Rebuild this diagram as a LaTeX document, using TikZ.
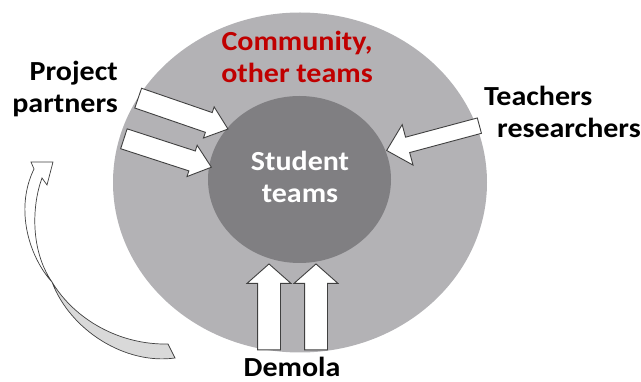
\documentclass[tikz,border=0pt]{standalone}
\usepackage{fontspec}
\setmainfont{Carlito}
\definecolor{colouter}{RGB}{179,178,181}
\definecolor{colinner}{RGB}{128,127,130}
\definecolor{colred}{RGB}{192,0,0}
\definecolor{coledge}{RGB}{64,64,64}
\usetikzlibrary{
	shapes.arrows,
	positioning
}
\tikzset{
	labeltext/.style={font=\fontsize{30}{35}\selectfont\bfseries, inner sep=0pt, yscale=0.92},
	blockarrow/.style={single arrow, draw=coledge, fill=white, line width=0.9pt, inner xsep=0pt},
	pparrow/.style={blockarrow, inner ysep=10pt, single arrow head extend=6pt, single arrow tip angle=78},
	tcharrow/.style={blockarrow, inner ysep=7.5pt, single arrow head extend=13pt, single arrow tip angle=88},
	demarrow/.style={blockarrow, inner ysep=11pt, single arrow head extend=10.5pt, single arrow tip angle=97},
	ribbon/.style={draw=coledge, line width=0.7pt}
}
\begin{document}
\begin{tikzpicture}[x=1pt, y=-1pt]
	\useasboundingbox (0,0) rectangle (641,382);

	% circles
	\fill[colouter] (300,182.5) ellipse [x radius=187, y radius=170];
	\fill[colinner] (299.5,179.5) ellipse [x radius=91.5, y radius=83.5];

	% labels
	\node[labeltext, text=colred, align=center, anchor=base] (community) at (297,83) {Community,\\other teams};
	\node[labeltext, align=right, anchor=base east] (partners) at (118,113) {Project\\partners};
	\node[labeltext, align=left, anchor=base west] (teachers) at (484,138) {Teachers\\\hspace{13pt}researchers};
	\node[labeltext, text=white, align=center, anchor=base] (students) at (300,203) {Student\\teams};
	\node[labeltext, anchor=base] (demola) at (292,377) {Demola};

	% block arrows
	\node[pparrow, rotate=-19, minimum height=95pt] (pp1) at (177,111.5) {};
	\node[pparrow, rotate=-18, minimum height=92pt] (pp2) at (161.5,151) {};
	\node[tcharrow, rotate=195, minimum height=96pt] (tch) at (437,137) {};
	\node[demarrow, rotate=90, minimum height=86pt] (dem1) at (269,312) {};
	\node[demarrow, rotate=90, minimum height=86pt] (dem2) at (316,312) {};

	% curved feedback arrow
	\filldraw[ribbon, fill=gray!30]
		(52,282) .. controls (75,320) and (120,345) .. (168,344)
		-- (175,358) .. controls (125,365) and (70,330) .. (52,282) -- cycle;
	\filldraw[ribbon, fill=white]
		(52,282) .. controls (30,258) and (14,210) .. (34,169)
		-- (31,162) -- (53,162) -- (47,185) -- (42,178)
		.. controls (32,205) and (30,250) .. (52,282) -- cycle;
\end{tikzpicture}
\end{document}
